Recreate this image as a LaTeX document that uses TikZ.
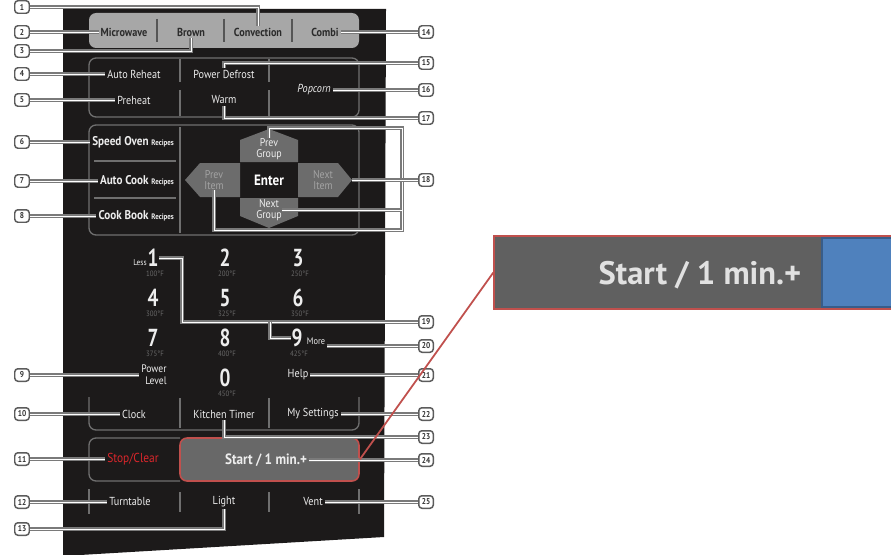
\documentclass[tikz,border=0pt]{standalone}
\usepackage{fontspec}
\setmainfont{PT Sans}[FakeStretch=0.88]
\newfontfamily\numfont{PT Sans}[FakeStretch=0.78]
\newfontfamily\zoomfont{PT Sans}
\usetikzlibrary{calc}
\definecolor{panelbg}{HTML}{1C1A1A}
\definecolor{modegray}{HTML}{A7A7A7}
\definecolor{modeink}{HTML}{2B2B2B}
\definecolor{rimgray}{HTML}{6F6F6F}
\definecolor{padgray}{HTML}{6C6C6C}
\definecolor{keyink}{HTML}{EDEDED}
\definecolor{dimink}{HTML}{A3A3A3}
\definecolor{tempgray}{HTML}{6A6A6A}
\definecolor{leadgray}{HTML}{7A7A7A}
\definecolor{tagrim}{HTML}{5C5C5C}
\definecolor{tagink}{HTML}{333333}
\definecolor{stopred}{HTML}{D9262B}
\definecolor{callred}{HTML}{C0504D}
\definecolor{btngray}{HTML}{686868}
\definecolor{zoomgray}{HTML}{606060}
\definecolor{zoomblue}{HTML}{4F81BD}
\definecolor{zoomrim}{HTML}{385D8A}
\tikzset{
  lbl/.style={text=keyink,font=\fontsize{6.6}{7}\selectfont,inner sep=1pt},
  mlbl/.style={text=modeink,font=\fontsize{6.6}{7}\selectfont\bfseries,inner sep=1pt},
  reclbl/.style={lbl,anchor=east,font=\fontsize{7.2}{8}\selectfont\bfseries},
  digit/.style={text=keyink,font=\numfont\fontsize{14}{14}\selectfont\bfseries,inner sep=0pt},
  temp/.style={text=tempgray,font=\fontsize{4.4}{4.6}\selectfont,inner sep=0pt},
  padtxt/.style={align=center,font=\fontsize{6.4}{6.2}\selectfont,inner sep=0pt},
  outl/.style={draw=rimgray,line width=0.75pt,rounded corners=4pt},
  rim/.style={draw=rimgray,line width=0.6pt},
  lead/.style={draw=leadgray,double=white,double distance=0.55pt,line width=0.65pt},
  tagbox/.style={draw=tagrim,line width=0.85pt,fill=white,rounded corners=1.8pt,
    minimum width=0.29cm,minimum height=0.25cm,inner sep=0pt,text=tagink,
    font=\fontsize{4.8}{4.8}\selectfont\bfseries},
}
\newcommand{\rcp}{{\fontsize{4.5}{5}\selectfont Recipes}}

\begin{document}
\begin{tikzpicture}[x=0.02cm,y=-0.02cm]
  \useasboundingbox (0,0) rectangle (891,554);
  % control panel
  \fill[panelbg] (63,9) -- (386,9) -- (384,537) -- (63,556) -- cycle;
  \fill[modegray,rounded corners=4pt] (89,13) rectangle (359,48);
  \foreach \x in {157,224,292} \draw[modeink!80,line width=0.6pt] (\x,19) -- (\x,42);
  \node[mlbl] (mw) at (124,32) {Microwave};
  \node[mlbl] (br) at (191,32) {Brown};
  \node[mlbl] (cv) at (258,32) {Convection};
  \node[mlbl] (cb) at (325,32) {Combi};

  \draw[outl] (89,58) rectangle (359,117);
  \foreach \x in {180,269} \draw[rim] (\x,59) -- (\x,82) (\x,90) -- (\x,116);
  \node[lbl] (ar) at (134,74) {Auto Reheat};
  \node[lbl] (pd) at (224,74) {Power Defrost};
  \node[lbl] (ph) at (134,100) {Preheat};
  \node[lbl] (wm) at (224,100) {Warm};
  \node[lbl,font=\fontsize{6.6}{7}\selectfont\itshape] (pc) at (314,90) {Popcorn};

  \draw[outl] (89,125) rectangle (359,235);
  \draw[rim] (180,127) -- (180,233);
  \foreach \y in {161,198} \draw[rim] (94,\y) -- (176,\y);
  \node[reclbl] (so) at (176,142) {Speed Oven \rcp};
  \node[reclbl] (ac) at (176,181) {Auto Cook \rcp};
  \node[reclbl] (ck2) at (176,216) {Cook Book \rcp};

  % direction pad
  \fill[padgray] (240,162) -- (240,140) -- (269,129) -- (298,140) -- (298,162) -- cycle;
  \fill[padgray] (240,163) -- (200,163) -- (185,180) -- (200,197) -- (240,197) -- cycle;
  \fill[padgray] (298,163) -- (338,163) -- (352,180) -- (338,197) -- (298,197) -- cycle;
  \fill[padgray] (240,198) -- (298,198) -- (298,216) -- (269,228) -- (240,216) -- cycle;
  \node[padtxt,text=keyink!90] (pg) at (269,149) {Prev\\Group};
  \node[padtxt,text=dimink] (pi) at (214,180) {Prev\\Item};
  \node[padtxt,text=dimink] (ni) at (323,180) {Next\\Item};
  \node[padtxt,text=keyink!90] (ng) at (269,210) {Next\\Group};
  \node[lbl,font=\fontsize{8.5}{9}\selectfont\bfseries,text=white] (en) at (269,180) {Enter};
  \coordinate (nitip) at (352,180);

  % number keys
  \foreach \d/\x/\y/\t in {1/153/258/100,2/225/258/200,3/298/258/250,4/153/298/300,5/225/298/325,
      6/298/298/350,7/153/338/375,8/225/338/400,9/297/338/425,0/225/378/450}{
    \node[digit] (d\d) at (\x,\y) {\d};
    \node[temp] (f\d) at (\x+2,\y+16) {\t°F};
  }
  \node[lbl,font=\fontsize{4.8}{5}\selectfont] (less) at (140,263) {Less};
  \node[lbl,font=\fontsize{5.4}{6}\selectfont] (more) at (316,341) {More};
  \node[lbl,align=right,font=\fontsize{6.2}{6.8}\selectfont] (pl) at (154,375) {Power\\Level};
  \node[lbl] (hp) at (298,375) {Help};

  \draw[outl] (89,397) -- (89,430) -- (359,430) -- (359,397);
  \foreach \x in {180,269} \draw[rim] (\x,398) -- (\x,428);
  \node[lbl] (ck) at (134,414) {Clock};
  \node[lbl] (kt) at (224,414) {Kitchen Timer};
  \node[lbl] (ms) at (313,414) {My Settings};

  \draw[outl] (180,438) -- (89,438) -- (89,481) -- (180,481);
  \node[draw=callred,line width=0.9pt,fill=btngray,rounded corners=4pt,minimum width=3.58cm,
    minimum height=0.86cm,inner sep=0pt] (sb) at (269.5,459.5) {};
  \node[lbl,font=\fontsize{7.4}{8}\selectfont,text=stopred] (sc) at (133,459) {Stop/Clear};
  \node[lbl,font=\fontsize{8.5}{9}\selectfont\bfseries] (st) at (266,460) {Start / 1 min.+};

  \foreach \x/\a/\b in {89/489/514,180/492/512,269/492/512,359/489/514} \draw[rimgray,line width=0.75pt] (\x,\a) -- (\x,\b);
  \node[lbl] (tt) at (130,502) {Turntable};
  \node[lbl] (lt) at (224,502) {Light};
  \node[lbl] (vt) at (313,502) {Vent};

  % enlarged start key
  \node[draw=callred,line width=0.8pt,fill=zoomgray,minimum width=8.2cm,minimum height=1.46cm,
    inner sep=0pt] (zm) at (699,272.5) {};
  \filldraw[fill=zoomblue,draw=zoomrim,line width=1pt] (822,238) rectangle (900,307);
  \node[anchor=base,text=keyink!95!black,font=\zoomfont\fontsize{18.5}{18.5}\selectfont\bfseries] (zt) at (700,284) {Start / 1 min.+};

  % callout tags
  \foreach \n/\y in {1/7,2/32,3/51,4/74,5/100,6/142,7/181,8/216,9/375,10/414,11/459,12/502,13/529}
    \node[tagbox] (t\n) at (22,\y) {\n};
  \foreach \n/\y in {14/32,15/63,16/90,17/118,18/180,19/322,20/346,21/375,22/414,23/437,24/460,25/502}
    \node[tagbox] (t\n) at (426,\y) {\n};

  % leaders
  \draw[lead] (t1.east) -| (cv.north);
  \draw[lead] (t2.east) -- (mw.west);
  \draw[lead] (t3.east) -| (br.south);
  \draw[lead] (t4.east) -- (ar.west);
  \draw[lead] (t5.east) -- (ph.west);
  \draw[lead] (t6.east) -- (so.west);
  \draw[lead] (t7.east) -- (ac.west);
  \draw[lead] (t8.east) -- (ck2.west);
  \draw[lead] (t9.east) -- (pl.west);
  \draw[lead] (t10.east) -- (ck.west);
  \draw[lead] (t11.east) -- (sc.west);
  \draw[lead] (t12.east) -- (tt.west);
  \draw[lead] (t13.east) -| (lt.south);
  \draw[lead] (t14.west) -- (cb.east);
  \draw[lead] (t15.west) -| (pd.north);
  \draw[lead] (t16.west) -- (pc.east);
  \draw[lead] (t17.west) -| (wm.south);
  \coordinate (b18t) at (402,128);
  \coordinate (b18b) at (402,230);
  \draw[lead] (pg.north) |- (b18t) -- (b18b) -| (pi.south);
  \draw[lead] (ng.east) -- (ng.east -| b18t);
  \draw[lead] (t18.west) -- (nitip);
  \coordinate (k19) at (182,322);
  \coordinate (k9) at (270,322);
  \draw[lead] (t19.west) -- (k19) |- (d1.east);
  \draw[lead] (d9.west) -| (k9);
  \draw[lead] (t20.west) -- (t20.west -| more.east);
  \draw[lead] (t21.west) -- (hp.east);
  \draw[lead] (t22.west) -- (ms.east);
  \draw[lead] (t23.west) -| (kt.south);
  \draw[lead] (t24.west) -- (st.east);
  \draw[lead] (t25.west) -- (vt.east);

  \draw[callred,line width=1pt] (sb.east) -- (zm.west);
\end{tikzpicture}
\end{document}
